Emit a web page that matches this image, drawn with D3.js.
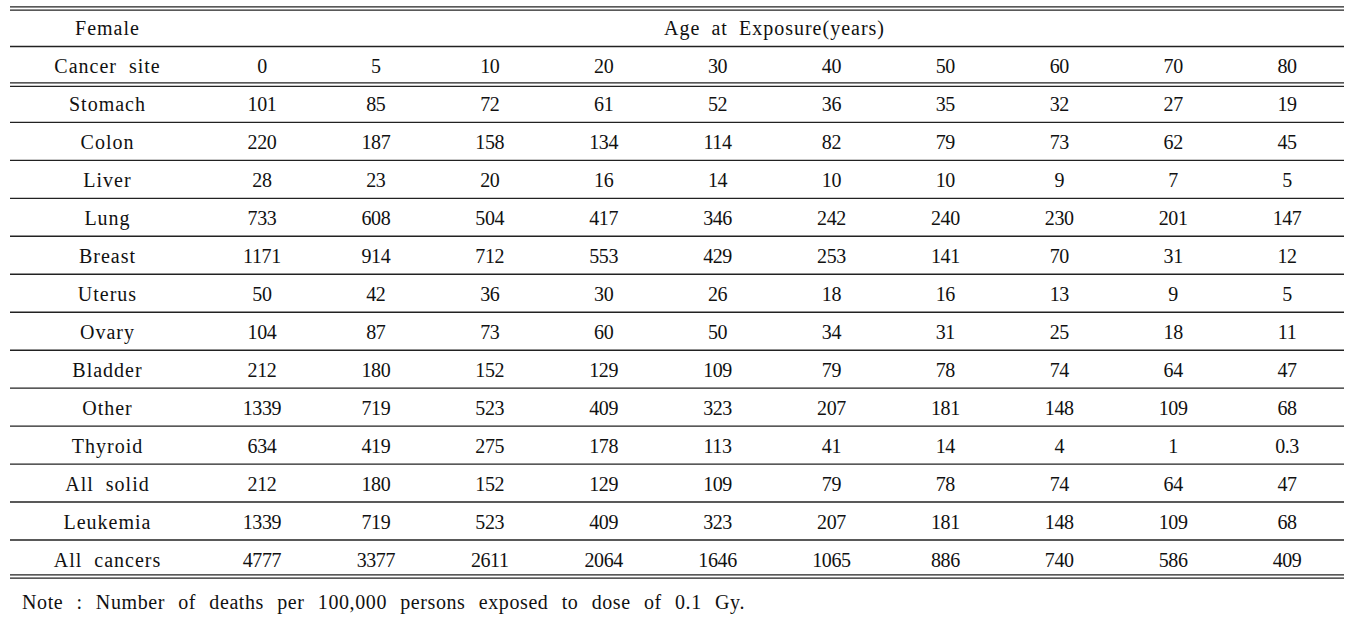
<!DOCTYPE html>
<html>
<head>
<meta charset="utf-8">
<script src="https://cdn.jsdelivr.net/npm/d3@7"></script>
<style>
  body { margin: 0; background: #fff; }
</style>
</head>
<body>
<div id="canvas"></div>
<script>
let ages = ["0", "5", "10", "20", "30", "40", "50", "60", "70", "80"];
let sites = ["Stomach", "Colon", "Liver", "Lung", "Breast", "Uterus", "Ovary", "Bladder",
    "Other", "Thyroid", "All  solid", "Leukemia", "All  cancers"];
let stomach = [101, 85, 72, 61, 52, 36, 35, 32, 27, 19];
let colon = [220, 187, 158, 134, 114, 82, 79, 73, 62, 45];
let liver = [28, 23, 20, 16, 14, 10, 10, 9, 7, 5];
let lung = [733, 608, 504, 417, 346, 242, 240, 230, 201, 147];
let breast = [1171, 914, 712, 553, 429, 253, 141, 70, 31, 12];
let uterus = [50, 42, 36, 30, 26, 18, 16, 13, 9, 5];
let ovary = [104, 87, 73, 60, 50, 34, 31, 25, 18, 11];
let bladder = [212, 180, 152, 129, 109, 79, 78, 74, 64, 47];
let other = [1339, 719, 523, 409, 323, 207, 181, 148, 109, 68];
let thyroid = [634, 419, 275, 178, 113, 41, 14, 4, 1, 0.3];
let allSolid = [212, 180, 152, 129, 109, 79, 78, 74, 64, 47];
let leukemia = [1339, 719, 523, 409, 323, 207, 181, 148, 109, 68];
let allCancers = [4777, 3377, 2611, 2064, 1646, 1065, 886, 740, 586, 409];
let values = [stomach, colon, liver, lung, breast, uterus, ovary, bladder,
    other, thyroid, allSolid, leukemia, allCancers];

let groupLabel = "Female";
let siteLabel = "Cancer  site";
let ageLabel = "Age  at  Exposure(years)";
let note = "Note : Number of deaths per 100,000 persons exposed to dose of 0.1 Gy.";

let width = 1364;
let height = 620;
let left = 10, right = 1344, firstCol = 205;

let canvas = d3.select("#canvas")
    .append("svg")
    .attr("width", width)
    .attr("height", height)
    .attr("font-family", "'Liberation Serif', 'Times New Roman', serif")
    .attr("font-size", 20)
    .attr("fill", "#111");

// rows: 2 header rows + body rows
let rowKeys = ["h1", "h2", ...sites];
const yScale = d3.scaleBand()
    .domain(rowKeys)
    .range([8.5, 578]);

const xScale = d3.scaleBand()
    .domain(ages)
    .range([firstCol, right]);

let midFirst = (left + firstCol) / 2;
let baseOff = 8;
let rowMid = k => yScale(k) + yScale.bandwidth() / 2 + baseOff;

// horizontal rules
let hline = (y, w) => canvas.append("line")
    .attr("x1", left).attr("x2", right)
    .attr("y1", y).attr("y2", y)
    .attr("stroke", "#222")
    .attr("stroke-width", w || 1.4);

let dbl = (y) => { hline(y - 1.7, 1.3); hline(y + 1.7, 1.3); };

dbl(yScale("h1"));
hline(yScale("h2"));
dbl(yScale(sites[0]) + 0.2);
sites.slice(1).forEach(s => hline(yScale(s)));
dbl(yScale(sites[sites.length - 1]) + yScale.bandwidth() - 1.5);

// stretch word gaps so text fills a given width
let fitWords = (sel, target) => {
    let natural = sel.node().getComputedTextLength();
    let gaps = (sel.text().match(/ /g) || []).length;
    if (gaps > 0) sel.attr("word-spacing", (target - natural) / gaps);
};

let label = (x, y, s) => canvas.append("text")
    .attr("x", x).attr("y", y)
    .attr("text-anchor", "middle")
    .attr("letter-spacing", 1)
    .attr("xml:space", "preserve")
    .style("white-space", "pre")
    .text(s);

// header
label(midFirst, rowMid("h1"), groupLabel);
let ageHead = label((xScale(ages[0]) + xScale(ages[ages.length - 1]) + xScale.bandwidth()) / 2,
    rowMid("h1"), ageLabel);
fitWords(ageHead, 221);
label(midFirst, rowMid("h2"), siteLabel);

canvas.selectAll("text.age")
    .data(ages)
    .join("text")
    .attr("class", "age")
    .attr("x", d => xScale(d) + xScale.bandwidth() / 2)
    .attr("y", rowMid("h2"))
    .attr("text-anchor", "middle")
    .attr("letter-spacing", -0.4)
    .text(d => d);

// body
sites.forEach(s => label(midFirst, rowMid(s), s));

let rows = canvas.selectAll("g.row")
    .data(sites.map((s, i) => ({ site: s, vals: values[i] })))
    .join("g")
    .attr("class", "row");

rows.selectAll("text.val")
    .data(d => d.vals.map((v, i) => ({ site: d.site, age: ages[i], v: v })))
    .join("text")
    .attr("class", "val")
    .attr("x", d => xScale(d.age) + xScale.bandwidth() / 2)
    .attr("y", d => rowMid(d.site))
    .attr("text-anchor", "middle")
    .attr("letter-spacing", -0.4)
    .text(d => d.v);

// note
let noteText = canvas.append("text")
    .attr("x", 22).attr("y", 609)
    .attr("letter-spacing", 0.6)
    .text(note);
fitWords(noteText, 723);
</script>
</body>
</html>
